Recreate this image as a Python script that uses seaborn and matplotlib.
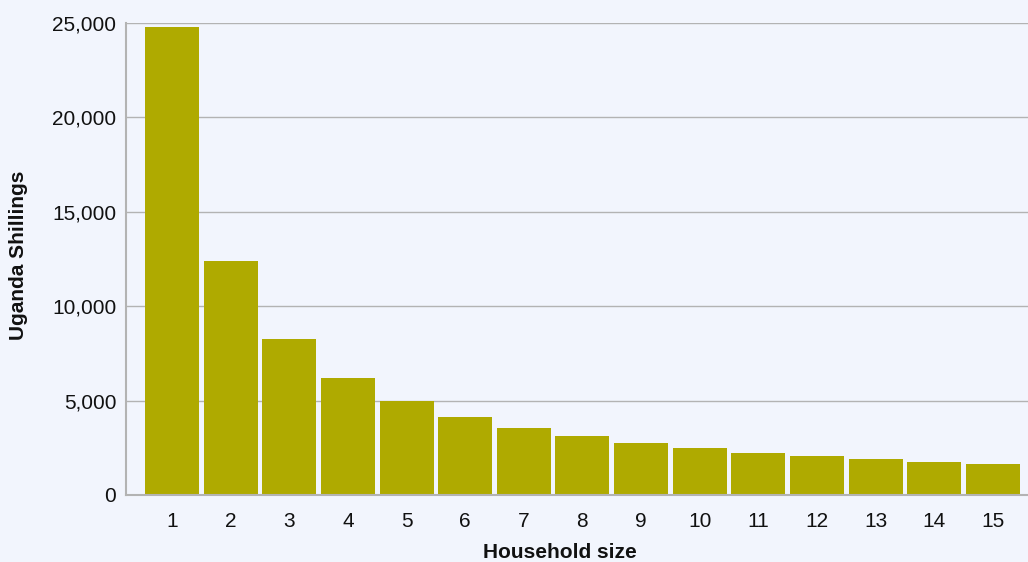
import matplotlib
matplotlib.use("Agg")
import matplotlib.pyplot as plt
import seaborn as sns
import pandas as pd
from matplotlib.ticker import FuncFormatter, MultipleLocator

household_size = [str(i) for i in range(1, 16)]
shillings = [24800, 12400, 8270, 6200, 4960, 4130, 3540, 3100, 2760, 2480, 2250, 2070, 1910, 1770, 1650]

sns.set_style("white")
plt.rcParams['font.family'] = ['Liberation Sans', 'DejaVu Sans']

bg = "#f2f5fd"
bar_color = "#afaa00"
grid_color = "#b3b3b3"

fig = plt.figure(figsize=(10.28, 5.62), dpi=100, facecolor=bg)
ax = fig.add_axes([126/1028, 1 - 495/562, 1 - 126/1028, (495 - 23)/562])
ax.set_facecolor(bg)

df = pd.DataFrame({"size": household_size, "value": shillings})
sns.barplot(data=df, x="size", y="value", color=bar_color, width=0.92,
            saturation=1, ax=ax, zorder=3, linewidth=0, edgecolor="none")

ax.set_ylim(0, 25000)
ax.set_xlim(-0.785, 14.6)
ax.yaxis.set_major_locator(MultipleLocator(5000))
ax.yaxis.set_major_formatter(FuncFormatter(lambda v, p: f"{int(v):,}"))
ax.grid(axis="y", color=grid_color, linewidth=1, zorder=0)
ax.set_axisbelow(True)

for s in ["top", "right"]:
    ax.spines[s].set_visible(False)
for s in ["left", "bottom"]:
    ax.spines[s].set_color(grid_color)
    ax.spines[s].set_linewidth(1.5)
    ax.spines[s].set_zorder(4)

ax.tick_params(axis="y", length=0, pad=7, labelsize=15, labelcolor="#111111")
ax.tick_params(axis="x", length=0, pad=12, labelsize=15, labelcolor="#111111")

ax.set_xlabel("Household size", fontsize=15, fontweight="bold", color="#111111")
ax.set_ylabel("Uganda Shillings", fontsize=15, fontweight="bold", color="#111111")
ax.xaxis.set_label_coords((560 - 126) / 902, (495 - 552) / 472)
ax.xaxis.label.set_va("center")
ax.yaxis.set_label_coords((19 - 126) / 902, (495 - 255) / 472)
ax.yaxis.label.set_va("center")

fig.savefig("out.png", dpi=100, facecolor=bg)
